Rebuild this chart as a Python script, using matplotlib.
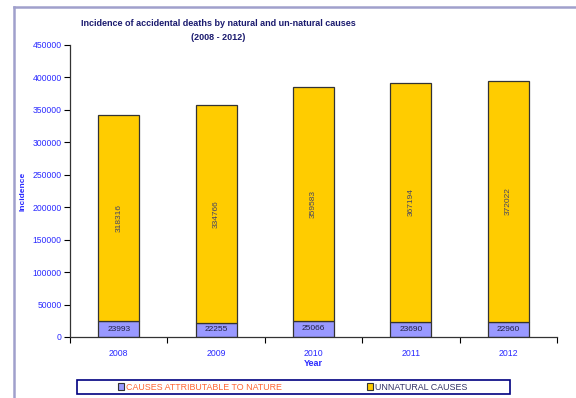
import numpy as np
import matplotlib
matplotlib.use('Agg')
import matplotlib.pyplot as plt
from matplotlib.patches import Rectangle, Patch
from matplotlib.lines import Line2D

plt.rcParams['font.family'] = ['Liberation Sans', 'DejaVu Sans']

# Data
years = ['2008', '2009', '2010', '2011', '2012']
nature = [23993, 22255, 25066, 23690, 22960]
unnatural = [318316, 334766, 359583, 367194, 372022]

blue = '#2a2aff'
navy = '#1a1a6e'

fig = plt.figure(figsize=(5.76, 3.98), dpi=100)
ax = fig.add_axes([70/576, 1-337/398, 487/576, 292/398])

x = np.arange(len(years))
b1 = ax.bar(x, nature, width=0.42, color='#9999ff', edgecolor='#333333', linewidth=0.9)
b2 = ax.bar(x, unnatural, width=0.42, bottom=nature, color='#ffcc00',
            edgecolor='#333333', linewidth=0.9)

for i in range(len(years)):
    ax.text(x[i], nature[i]/2, str(nature[i]), ha='center', va='center',
            fontsize=6, color='#222244')
    ax.text(x[i], nature[i] + unnatural[i]/2, str(unnatural[i]), ha='center',
            va='center', rotation=90, fontsize=6, color='#444466')

ax.set_xlim(-0.5, len(years) - 0.5)
ax.set_ylim(0, 450000)
ax.set_yticks(np.arange(0, 450001, 50000))
ax.set_yticklabels([str(v) for v in range(0, 450001, 50000)])
ax.set_xticks(x)
ax.set_xticklabels(years)
ax.set_xticks(np.arange(-0.5, len(years), 1), minor=True)
ax.tick_params(axis='x', which='major', length=0, pad=9, labelsize=6.3, labelcolor=blue)
ax.tick_params(axis='x', which='minor', length=4, width=0.8, direction='out')
ax.tick_params(axis='y', length=4, width=0.8, labelsize=6.2, labelcolor=blue, pad=2)

for s in ['top', 'right']:
    ax.spines[s].set_visible(False)
for s in ['left', 'bottom']:
    ax.spines[s].set_linewidth(0.9)
    ax.spines[s].set_color('#333333')

ax.set_xlabel('Year', fontsize=6.5, fontweight='bold', color=blue, labelpad=0)
ax.set_ylabel('Incidence', fontsize=6, fontweight='bold', color=blue, labelpad=4)

fig.text(218/576, 1-24/398, 'Incidence of accidental deaths by natural and un-natural causes',
         ha='center', va='center', fontsize=6.5, fontweight='bold', color=navy)
fig.text(218/576, 1-37/398, '(2008 - 2012)', ha='center', va='center',
         fontsize=6.5, fontweight='bold', color=navy)

# outer frame
fig.add_artist(Line2D([14/576, 14/576], [0, 1-7/398], transform=fig.transFigure,
                      color='#a0a0cc', linewidth=1.8))
fig.add_artist(Line2D([14/576, 1], [1-7/398, 1-7/398], transform=fig.transFigure,
                      color='#a0a0cc', linewidth=1.8))

# legend
fig.add_artist(Rectangle((77/576, 1-394/398), 433/576, 14/398, transform=fig.transFigure,
                         facecolor='white', edgecolor='#000080', linewidth=1.2))
handles = [Patch(facecolor='#9999ff', edgecolor='#333333', linewidth=0.8),
           Patch(facecolor='#ffcc00', edgecolor='#333333', linewidth=0.8)]
leg = fig.legend(handles, ['CAUSES ATTRIBUTABLE TO NATURE', 'UNNATURAL CAUSES'],
                 loc='center left', bbox_to_anchor=(118/576, 1-387/398), ncol=2,
                 frameon=False, fontsize=6.4, handlelength=0.7, handleheight=0.7,
                 handletextpad=0.25, columnspacing=9.5, borderpad=0, borderaxespad=0)
leg.get_texts()[0].set_color('#ff6633')
leg.get_texts()[1].set_color('#333366')

fig.savefig('out.png', dpi=100)
